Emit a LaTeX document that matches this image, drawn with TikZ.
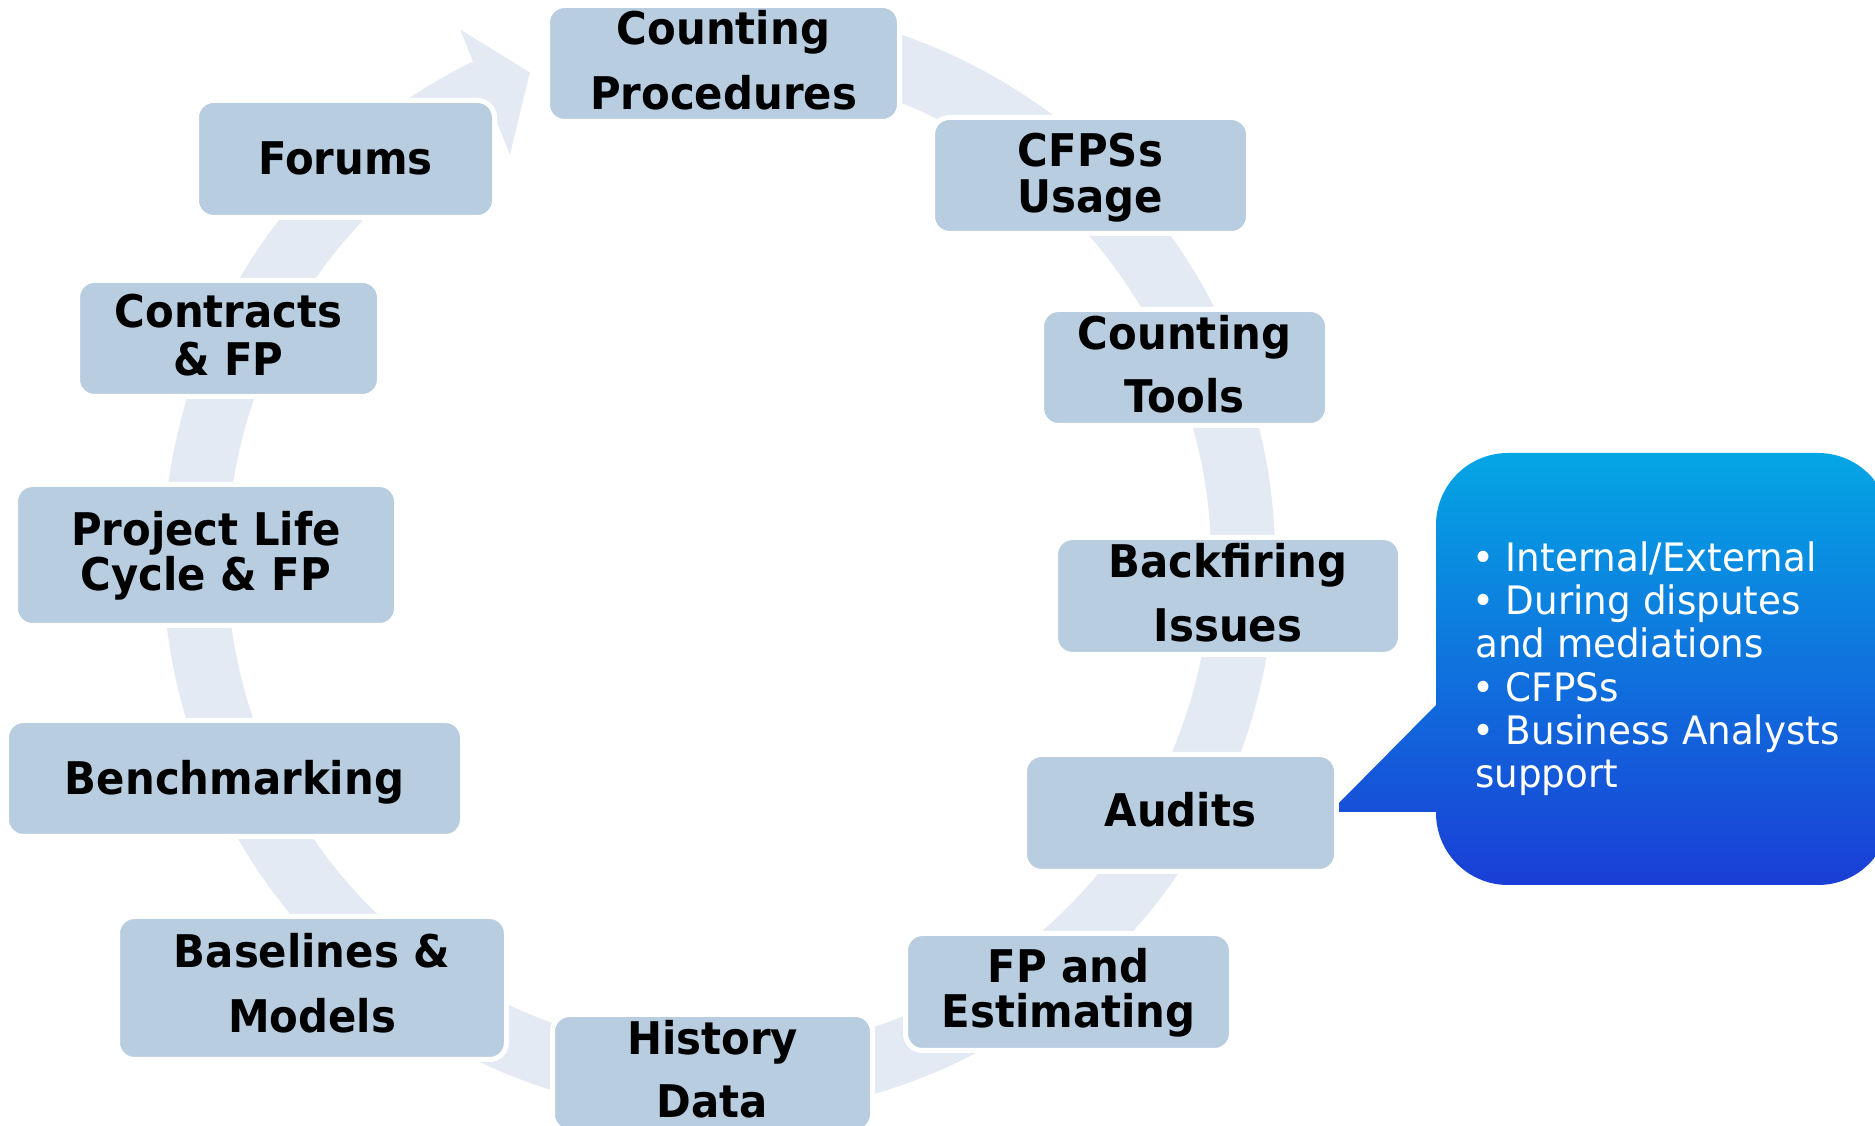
\documentclass[tikz,border=0pt]{standalone}
\usepackage{fontspec}
\newfontfamily\boxfont[FakeStretch=0.93]{DejaVu Sans}
\newfontfamily\callfont[FakeStretch=0.95]{DejaVu Sans}
\definecolor{boxfill}{RGB}{185,205,224}
\definecolor{ringcol}{RGB}{227,234,243}
\definecolor{calltop}{RGB}{4,166,228}
\definecolor{callbot}{RGB}{26,62,214}
\begin{document}
\begin{tikzpicture}[x=1pt,y=1pt,
 stepbox/.style={draw=white, line width=5pt, fill=boxfill, rounded corners=17pt, inner sep=0pt},
 lbl/.style={font=\boxfont\bfseries\fontsize{45}{54}\selectfont, inner sep=0pt, anchor=base, text=black},
 ctext/.style={font=\callfont\fontsize{39.2}{43}\selectfont, inner sep=0pt, anchor=base west, text=white}]
\useasboundingbox (0,0) rectangle (1875,1126);
\fill[white] (0,0) rectangle (1875,1126);
\clip (0,0) rectangle (1875,1126);
% ring arrow
\coordinate (O) at (719,566);
\draw[ringcol, line width=64pt] ([shift={(75:524)}]O) arc[start angle=75, end angle=-243.7, radius=524];
\fill[ringcol] ([shift={(116.0:590)}]O) -- ([shift={(111.2:523)}]O) -- ([shift={(117.3:456)}]O) -- cycle;
% boxes
\node[stepbox, minimum width=352pt, minimum height=116pt] (cp) at (723.5,1062.5) {};
\node[stepbox, minimum width=316pt, minimum height=116pt] (cfu) at (1090.5,950.5) {};
\node[stepbox, minimum width=286pt, minimum height=116pt] (ct) at (1184.5,758.5) {};
\node[stepbox, minimum width=345pt, minimum height=117pt] (bi) at (1228,530) {};
\node[stepbox, minimum width=312pt, minimum height=117pt] (au) at (1180.5,313) {};
\node[stepbox, minimum width=326pt, minimum height=117pt] (fpe) at (1068.5,134) {};
\node[stepbox, minimum width=320pt, minimum height=117pt] (hd) at (712.5,53) {};
\node[stepbox, minimum width=389pt, minimum height=143pt] (bm) at (312,138) {};
\node[stepbox, minimum width=456pt, minimum height=116pt] (bench) at (234.5,347.5) {};
\node[stepbox, minimum width=381pt, minimum height=141pt] (plc) at (206,571) {};
\node[stepbox, minimum width=302pt, minimum height=116pt] (cfp) at (228.5,787.5) {};
\node[stepbox, minimum width=298pt, minimum height=117pt] (fo) at (345.5,967) {};
% labels
\node[lbl] (cp1) at (cp.center |- 0,1081) {Counting};
\node[lbl] (cp2) at (cp.center |- 0,1016) {Procedures};
\node[lbl] (cfu1) at (cfu.center |- 0,959) {CFPSs};
\node[lbl] (cfu2) at (cfu.center |- 0,913) {Usage};
\node[lbl] (ct1) at (ct.center |- 0,776) {Counting};
\node[lbl] (ct2) at (ct.center |- 0,713) {Tools};
\node[lbl] (bi1) at (bi.center |- 0,548) {Backfiring};
\node[lbl] (bi2) at (bi.center |- 0,484) {Issues};
\node[lbl] (au1) at (au.center |- 0,299) {Audits};
\node[lbl] (fpe1) at (fpe.center |- 0,143) {FP and};
\node[lbl] (fpe2) at (fpe.center |- 0,98) {Estimating};
\node[lbl] (hd1) at (hd.center |- 0,71) {History};
\node[lbl] (hd2) at (hd.center |- 0,8) {Data};
\node[lbl] (bm1) at (bm.center |- 0,158) {Baselines \&};
\node[lbl] (bm2) at (bm.center |- 0,93) {Models};
\node[lbl] (bench1) at (bench.center |- 0,331) {Benchmarking};
\node[lbl] (plc1) at (plc.center |- 0,580) {Project Life};
\node[lbl] (plc2) at (plc.center |- 0,535) {Cycle \& FP};
\node[lbl] (cfp1) at (cfp.center |- 0,798) {Contracts};
\node[lbl] (cfp2) at (cfp.center |- 0,750) {\& FP};
\node[lbl] (fo1) at (fo.center |- 0,951) {Forums};
% callout
\shade[top color=calltop, bottom color=callbot] (1436,421) -- (1339,323) -- (1339,314) -- (1436,314) -- cycle [rounded corners=72pt] (1436,241) rectangle (1890,673);
\node[ctext] (t1) at (1472,554) {• Internal/External};
\node[ctext] (t2) at (1472,511) {• During disputes};
\node[ctext] (t3) at (1475,468) {and mediations};
\node[ctext] (t4) at (1472,424) {• CFPSs};
\node[ctext] (t5) at (1472,381) {• Business Analysts};
\node[ctext] (t6) at (1475,338) {support};
\end{tikzpicture}
\end{document}
